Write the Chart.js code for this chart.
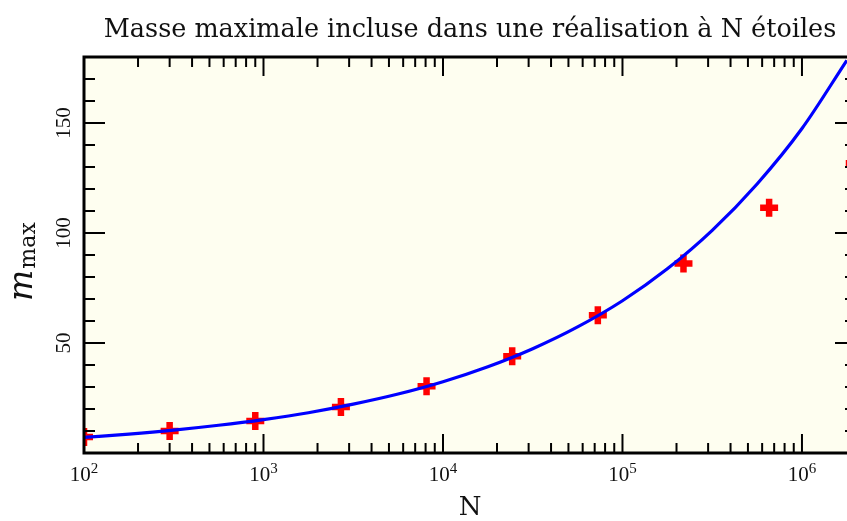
<!DOCTYPE html>
<html>
<head>
<meta charset="utf-8">
<script src="https://cdn.jsdelivr.net/npm/chart.js@4"></script>
<style>
  html, body { margin: 0; padding: 0; background: #fff; overflow: hidden; }
  /* the original figure is cut off on the right: the frame sits just past the window edge */
  #wrap { width: 856px; height: 521px; }
</style>
</head>
<body>
<div id="wrap"><canvas id="massChart"></canvas></div>
<script>
// red crosses: one realisation per N (factor 3 apart)
const starN = [100, 300, 900, 2700, 8100, 24300, 72900, 218700, 656100, 1968300];
const starMass = [7.3, 10.0, 14.5, 20.9, 30.3, 44.0, 62.6, 86.1, 111.5, 131.7];

const fitN = [100, 178, 316, 562, 1000, 1778, 3162, 5623, 10000, 17783, 31623, 56234,
              100000, 177828, 316228, 562341, 1000000, 1778279];
const fitMass = [7.1, 8.6, 10.4, 12.6, 15.2, 18.3, 22.2, 26.8, 32.4, 39.2, 47.4, 57.3,
                 69.2, 83.7, 101.2, 122.3, 147.5, 178.5];

const xTickValues = [1e2, 1e3, 1e4, 1e5, 1e6];
const xTickBase = '10';
const xTickExp = ['2', '3', '4', '5', '6'];
const yTickValues = [50, 100, 150];
const yTickLabels = ['50', '100', '150'];

const titleText = 'Masse maximale incluse dans une réalisation à N étoiles';
const xTitle = 'N';

const FONT = '"DejaVu Serif", serif';
const NUM_FONT = '"Liberation Serif", "DejaVu Serif", serif';

// background, frame, inward ticks and the texts that Chart.js can't lay out
const framePlugin = {
    id: 'frame',
    beforeDatasetsDraw(chart) {
        const a = chart.chartArea;
        const ctx = chart.ctx;
        ctx.save();
        ctx.fillStyle = '#fefef0';
        ctx.fillRect(a.left, a.top, a.right - a.left, a.bottom - a.top);
        ctx.restore();
    },
    afterDatasetsDraw(chart) {
        const a = chart.chartArea;
        const ctx = chart.ctx;
        const xs = chart.scales.x;
        const ys = chart.scales.y;
        ctx.save();
        ctx.strokeStyle = '#000';

        // ticks, pointing inwards on all four sides
        ctx.lineWidth = 2;
        const tick = (x1, y1, x2, y2) => {
            ctx.beginPath();
            ctx.moveTo(x1, y1);
            ctx.lineTo(x2, y2);
            ctx.stroke();
        };
        for (let d = 100; d <= xs.max; d *= 10) {
            for (let m = 1; m <= 9; m++) {
                const v = d * m;
                if (v > xs.max) break;
                const px = xs.getPixelForValue(v);
                const len = m === 1 ? 19 : 10;
                tick(px, a.bottom, px, a.bottom - len);
                tick(px, a.top, px, a.top + len);
            }
        }
        for (let v = 10; v < ys.max; v += 10) {
            const py = ys.getPixelForValue(v);
            const len = v % 50 === 0 ? 21 : 11;
            tick(a.left, py, a.left + len, py);
            tick(a.right, py, a.right - len, py);
        }

        // frame
        ctx.lineWidth = 3;
        ctx.strokeRect(a.left, a.top, a.right - a.left, a.bottom - a.top);

        ctx.fillStyle = '#111';

        // x tick labels: 10 with raised exponent
        ctx.textBaseline = 'alphabetic';
        ctx.textAlign = 'left';
        xTickValues.forEach((v, i) => {
            ctx.font = '21px ' + NUM_FONT;
            const wb = ctx.measureText(xTickBase).width;
            ctx.font = '15px ' + NUM_FONT;
            const we = ctx.measureText(xTickExp[i]).width;
            const x0 = xs.getPixelForValue(v) - (wb + we) / 2;
            ctx.font = '21px ' + NUM_FONT;
            ctx.fillText(xTickBase, x0, a.bottom + 28);
            ctx.font = '15px ' + NUM_FONT;
            ctx.fillText(xTickExp[i], x0 + wb, a.bottom + 20);
        });

        // y tick labels, rotated
        ctx.font = '21px ' + NUM_FONT;
        ctx.textAlign = 'center';
        ctx.textBaseline = 'middle';
        yTickValues.forEach((v, i) => {
            ctx.save();
            ctx.translate(a.left - 20, ys.getPixelForValue(v));
            ctx.rotate(-Math.PI / 2);
            ctx.fillText(yTickLabels[i], 0, 0);
            ctx.restore();
        });

        // y title: italic m with "max" subscript
        ctx.save();
        ctx.translate(32, 301);
        ctx.rotate(-Math.PI / 2);
        ctx.textAlign = 'left';
        ctx.textBaseline = 'alphabetic';
        ctx.font = 'italic 33px ' + FONT;
        ctx.fillText('m', 0, 0);
        const mW = ctx.measureText('m').width;
        ctx.font = '22px ' + FONT;
        ctx.fillText('max', mW + 1, 3);
        ctx.restore();

        // title and x title
        const cx = (a.left + a.right) / 2;
        ctx.textAlign = 'center';
        ctx.textBaseline = 'middle';
        ctx.font = '25.5px ' + FONT;
        ctx.fillText(titleText, cx, 30);
        ctx.font = '26px ' + FONT;
        ctx.fillText(xTitle, cx, 508);

        ctx.restore();
    }
};

const ctx = document.getElementById('massChart');

new Chart(ctx, {
    type: 'scatter',
    data: {
        datasets: [{
            label: 'ajustement',
            data: fitN.map((n, i) => ({ x: n, y: fitMass[i] })),
            showLine: true,
            borderColor: '#0000ff',
            borderWidth: 3.2,
            pointRadius: 0,
            cubicInterpolationMode: 'monotone'
        }, {
            label: 'réalisations',
            data: starN.map((n, i) => ({ x: n, y: starMass[i] })),
            pointStyle: 'cross',
            pointRadius: 9,
            pointBorderWidth: 6.5,
            borderColor: '#ff0000',
            backgroundColor: '#ff0000'
        }]
    },
    options: {
        responsive: true,
        maintainAspectRatio: false,
        animation: false,
        layout: { autoPadding: false, padding: { top: 57, left: 0, right: 0, bottom: 0 } },
        plugins: {
            legend: { display: false },
            tooltip: { enabled: false },
            title: { display: false }
        },
        scales: {
            x: {
                type: 'logarithmic',
                min: 100,
                max: 2e6,
                grid: { display: false, drawTicks: false },
                border: { display: false },
                afterFit: s => { s.height = 68; },
                ticks: { display: false }
            },
            y: {
                min: 0,
                max: 180,
                grid: { display: false, drawTicks: false },
                border: { display: false },
                afterFit: s => { s.width = 84; },
                ticks: { display: false }
            }
        }
    },
    plugins: [framePlugin]
});
</script>
</body>
</html>
